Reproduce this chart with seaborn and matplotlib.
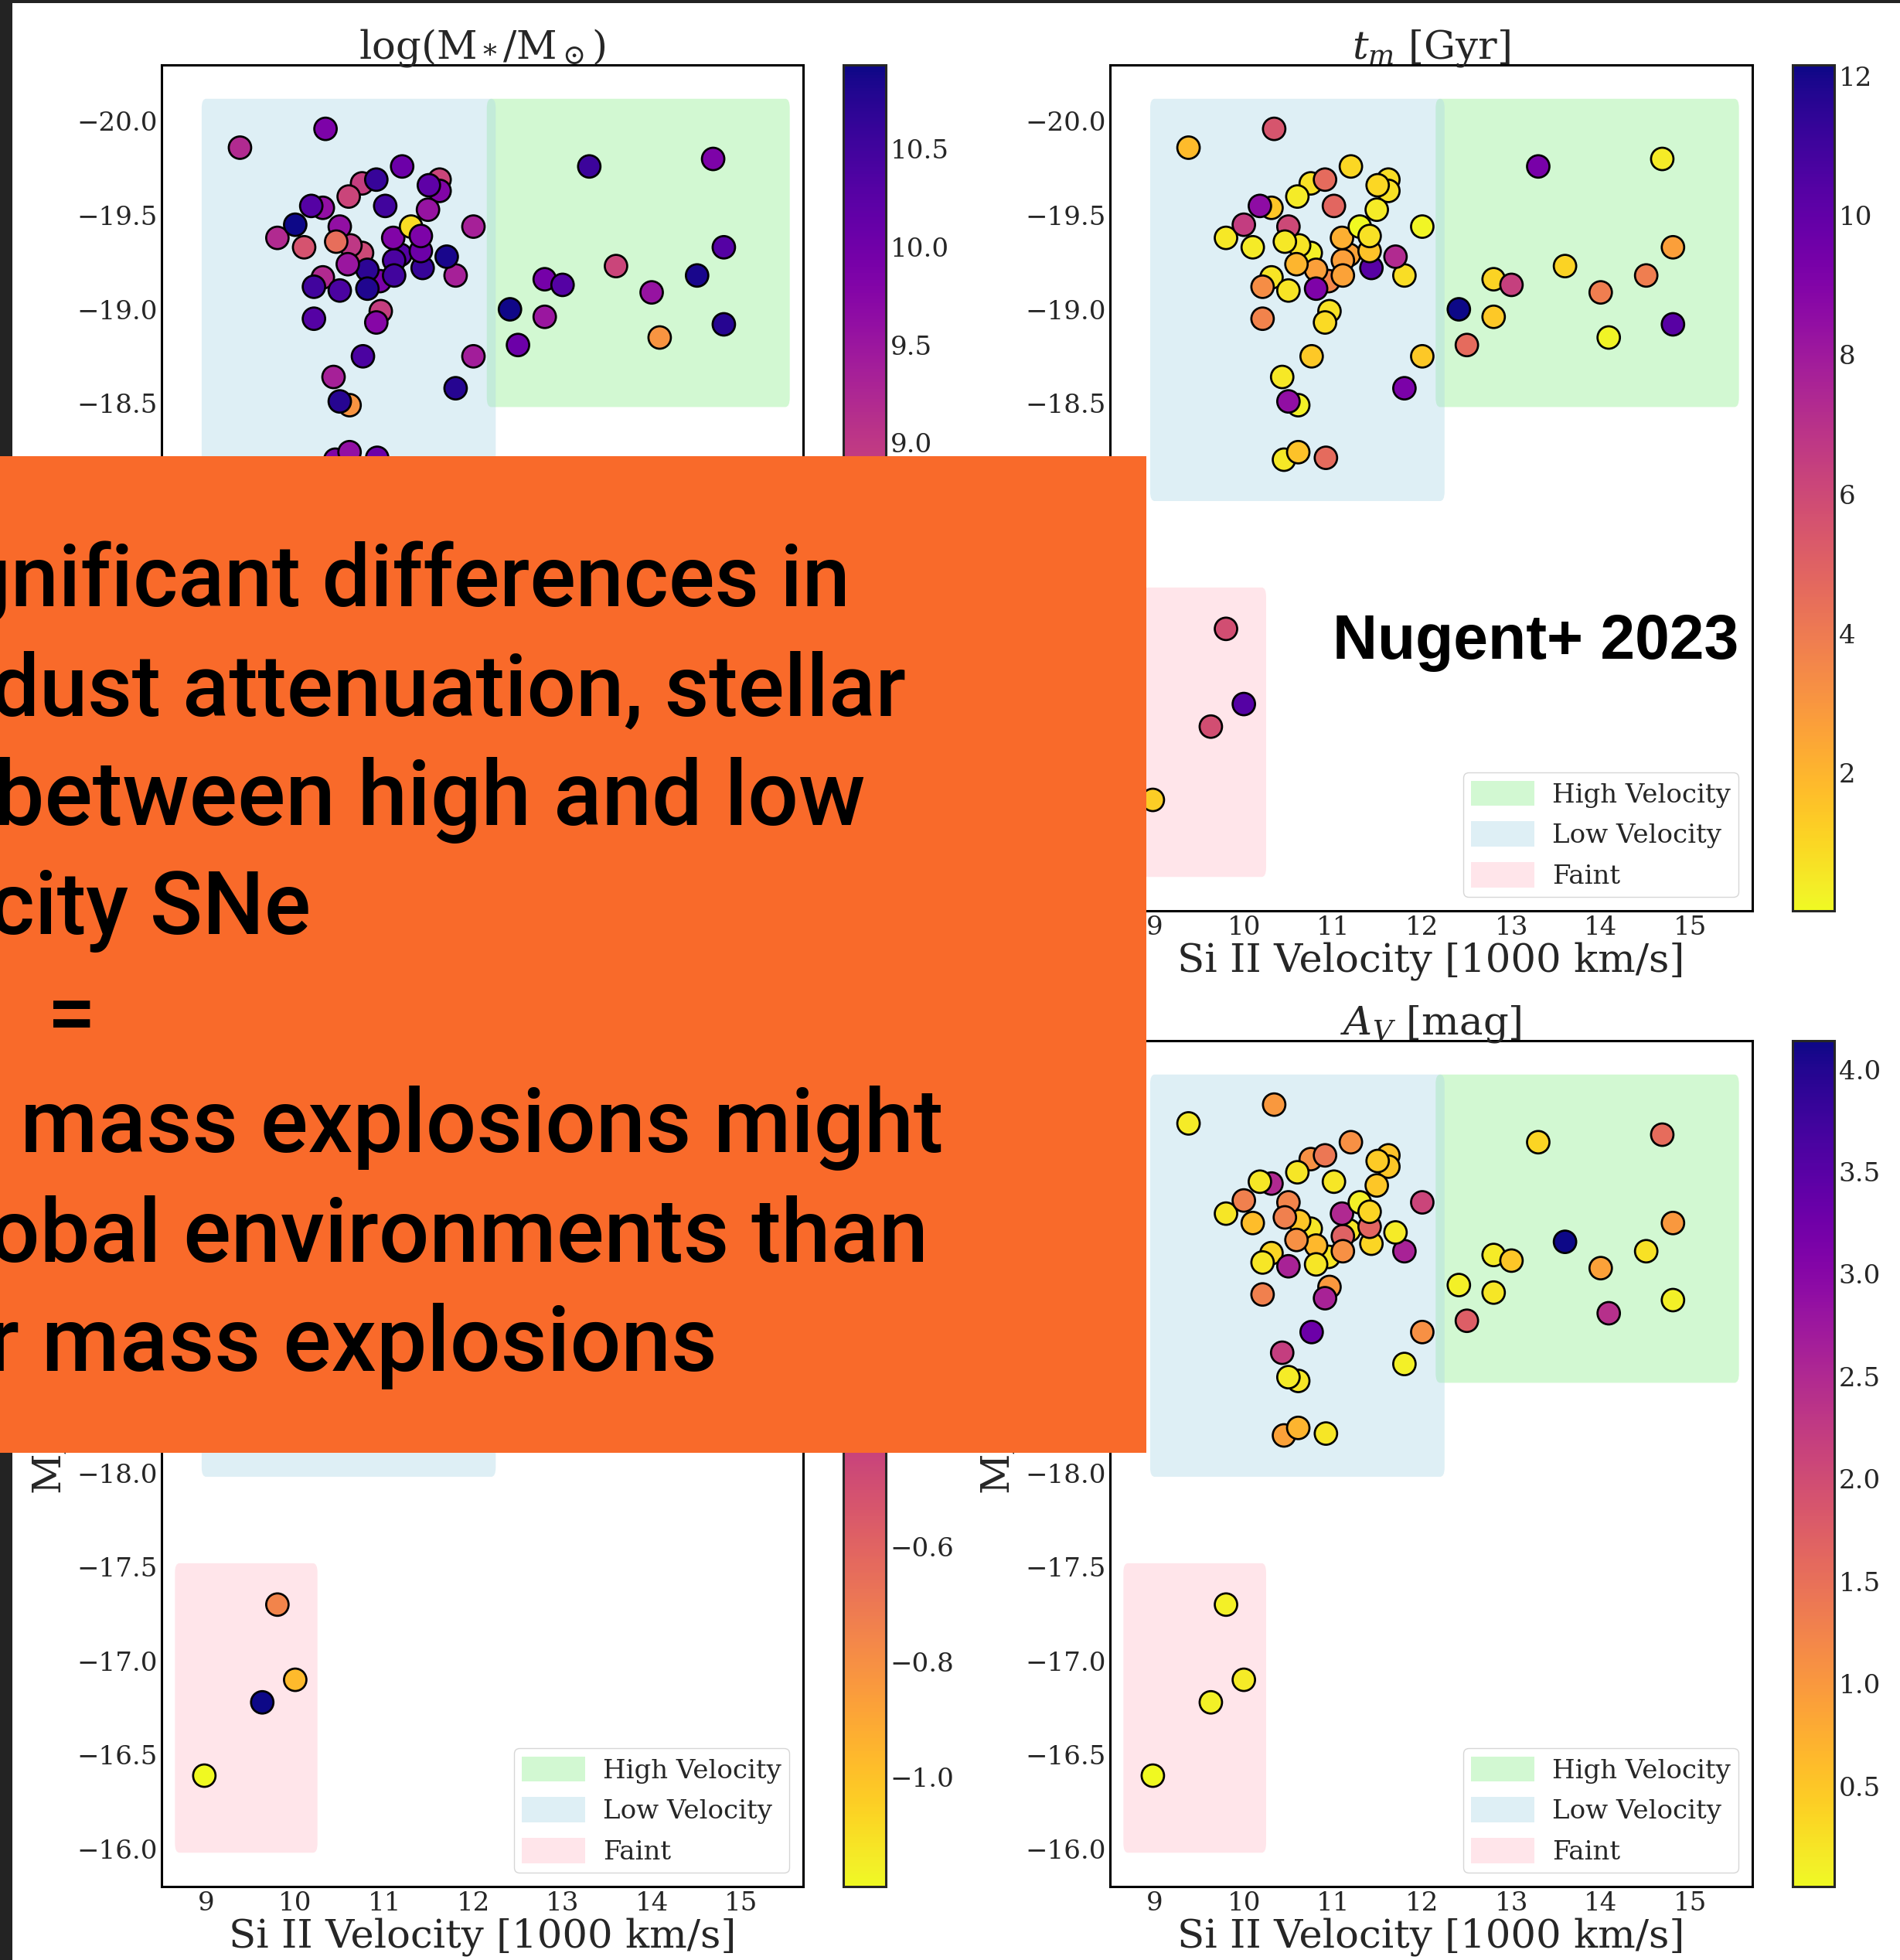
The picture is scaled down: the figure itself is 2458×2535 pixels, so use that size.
import matplotlib
matplotlib.use("Agg")
import matplotlib.pyplot as plt
from matplotlib.patches import FancyBboxPatch, Patch, Rectangle
from matplotlib.colors import Normalize
from matplotlib.cm import ScalarMappable
import pandas as pd
import seaborn as sns

# ---- host-galaxy properties of the SN Ia sample ----
si_velocity = [9.38, 10.34, 11.20, 10.75, 10.91, 10.60, 11.01, 11.62, 11.62, 11.50,
               11.49, 10.31, 10.18, 9.80, 10.00, 10.10, 10.75, 10.62, 10.50, 10.46,
               10.95, 10.81, 10.59, 10.81, 10.31, 10.21, 10.50, 11.43, 11.18, 11.11,
               11.11, 11.41, 11.10, 11.30, 11.41, 11.80, 11.70, 12.00, 10.96, 10.91,
               10.21, 10.76, 12.00, 10.43, 11.80, 10.61, 10.50, 10.45, 10.61, 10.92,
               12.41, 12.80, 13.00, 12.80, 12.50, 13.30, 14.69, 13.60, 14.00, 14.51,
               14.81, 14.81, 14.09, 9.80, 10.00, 9.63, 8.98]
peak_mag = [-19.86, -19.96, -19.76, -19.67, -19.69, -19.60, -19.55, -19.69, -19.63, -19.66,
            -19.53, -19.54, -19.55, -19.38, -19.45, -19.33, -19.30, -19.34, -19.44, -19.36,
            -19.15, -19.21, -19.24, -19.11, -19.17, -19.12, -19.10, -19.22, -19.29, -19.26,
            -19.18, -19.31, -19.38, -19.44, -19.39, -19.18, -19.28, -19.44, -18.99, -18.93,
            -18.95, -18.75, -18.75, -18.64, -18.58, -18.49, -18.51, -18.20, -18.24, -18.21,
            -19.00, -19.16, -19.13, -18.96, -18.81, -19.76, -19.80, -19.23, -19.09, -19.18,
            -19.33, -18.92, -18.85, -17.30, -16.90, -16.78, -16.39]
log_mass = [9.20, 9.85, 10.05, 8.90, 10.60, 8.80, 10.50, 8.80, 9.80, 10.20,
            9.55, 9.60, 10.30, 9.20, 10.93, 8.60, 8.75, 9.00, 9.60, 8.20,
            9.90, 10.70, 9.50, 10.80, 9.20, 10.50, 10.40, 10.60, 10.30, 10.40,
            10.50, 10.05, 9.80, 6.90, 9.85, 9.35, 10.85, 9.35, 8.90, 9.75,
            10.30, 10.40, 9.40, 9.35, 10.75, 7.70, 10.75, 9.80, 9.60, 10.05,
            10.90, 9.95, 10.30, 9.50, 10.05, 10.55, 9.85, 8.80, 9.55, 10.85,
            10.30, 10.75, 7.70, 9.30, 6.61, 8.90, 10.10]
mass_weighted_age = [1.8, 5.5, 1.0, 0.7, 4.6, 0.4, 4.8, 0.8, 0.7, 1.0,
                     0.4, 1.5, 8.6, 0.5, 6.5, 0.4, 0.3, 0.6, 6.0, 0.5,
                     3.5, 2.7, 2.0, 9.1, 0.6, 3.3, 0.6, 10.3, 2.6, 2.7,
                     2.6, 1.6, 2.2, 0.02, 0.7, 0.8, 7.3, 0.15, 0.7, 0.9,
                     3.7, 1.4, 1.4, 0.5, 9.2, 0.3, 8.5, 0.5, 1.6, 4.6,
                     12.16, 1.1, 6.4, 1.4, 4.6, 9.3, 0.4, 1.1, 3.9, 3.9,
                     2.7, 10.3, 0.2, 5.8, 10.4, 5.8, 1.3]
dust_av = [0.15, 1.00, 1.10, 1.10, 1.40, 0.20, 0.20, 0.55, 0.50, 0.45,
           0.50, 2.50, 0.20, 0.20, 1.30, 0.60, 0.20, 0.50, 1.25, 1.30,
           0.20, 0.65, 1.10, 0.20, 0.35, 0.20, 2.60, 0.35, 0.20, 1.70,
           1.10, 1.65, 2.50, 0.10, 0.35, 2.60, 0.15, 2.10, 1.00, 2.60,
           1.30, 3.30, 1.10, 2.20, 0.10, 0.20, 0.15, 0.90, 0.70, 0.20,
           0.10, 0.15, 0.50, 0.20, 1.75, 0.35, 1.55, 4.14, 0.90, 0.25,
           1.00, 0.10, 2.40, 0.10, 0.15, 0.10, 0.01]
log_metal = [-0.62, -0.35, -0.28, -0.71, -0.15, -0.80, -0.22, -0.66, -0.41, -0.30,
             -0.52, -0.47, -0.26, -0.58, -0.05, -0.77, -0.83, -0.69, -0.44, -0.92,
             -0.37, -0.18, -0.50, -0.12, -0.61, -0.24, -0.33, -0.16, -0.29, -0.27,
             -0.21, -0.39, -0.43, -1.02, -0.36, -0.54, -0.08, -0.56, -0.74, -0.45,
             -0.25, -0.31, -0.57, -0.55, -0.11, -0.95, -0.14, -0.42, -0.48, -0.34,
             -0.02, -0.40, -0.26, -0.51, -0.38, -0.20, -0.41, -0.63, -0.49, -0.09,
             -0.28, -0.13, -0.88, -0.75, -0.97, 0.28, -1.19]

panel_columns = ["log_mass", "t_m", "log_Z", "A_V"]
panel_titles = [r"log(M$_*$/M$_\odot$)", r"$t_m$ [Gyr]",
                r"log(Z$_*$/Z$_\odot$)", r"$A_V$ [mag]"]

region_names = ["High Velocity", "Low Velocity", "Faint"]
region_colors = ["lightgreen", "lightblue", "pink"]
region_vel = [(12.2, 15.5), (9.0, 12.2), (8.7, 10.2)]
region_mag = [(-20.07, -18.53), (-20.07, -18.03), (-17.47, -16.03)]

slide_lines = ["gnificant differences in", "dust attenuation, stellar",
               "between high and low", "city SNe", "=",
               "r mass explosions might", "obal environments than",
               "r mass explosions"]
credit = "Nugent+ 2023"

df = pd.DataFrame({"vel": si_velocity, "mag": peak_mag, "log_mass": log_mass,
                   "t_m": mass_weighted_age, "A_V": dust_av, "log_Z": log_metal})

# ---- styling ----
sns.set_theme(style="white")
plt.rcParams["font.family"] = ["DejaVu Serif"]
plt.rcParams["mathtext.fontset"] = "dejavuserif"
plt.rcParams["axes.unicode_minus"] = True

W, H = 2458, 2535
DPI = 100
fig = plt.figure(figsize=(W / DPI, H / DPI), dpi=DPI)
fig.patch.set_facecolor("white")


def px_axes(left, top, right, bottom, **kw):
    return fig.add_axes([left / W, 1 - bottom / H, (right - left) / W, (bottom - top) / H], **kw)


col_px = [((209, 1039), (1091, 1146)), ((1436, 2267), (2319, 2373))]
row_px = [(84, 1178), (1346, 2440)]

for k, (col, title) in enumerate(zip(panel_columns, panel_titles)):
    r, c = divmod(k, 2)
    (ax_l, ax_r), (cb_l, cb_r) = col_px[c]
    top, bot = row_px[r]
    ax = px_axes(ax_l, top, ax_r, bot)
    cax = px_axes(cb_l, top, cb_r, bot)

    for name, color, (v0, v1), (m0, m1) in zip(region_names, region_colors, region_vel, region_mag):
        ax.add_patch(FancyBboxPatch((v0, m0), v1 - v0, m1 - m0,
                                    boxstyle="round,pad=0.05", facecolor=color,
                                    edgecolor="none", alpha=0.4, zorder=1))

    norm = Normalize(vmin=df[col].min(), vmax=df[col].max())
    sns.scatterplot(data=df, x="vel", y="mag", hue=col, palette="plasma_r",
                    hue_norm=norm, s=436, edgecolor="black", linewidth=1.95,
                    legend=False, ax=ax, zorder=3)

    ax.set_xlim(8.5, 15.7)
    ax.set_ylim(-15.8, -20.3)
    ax.set_title(title, fontsize=37, pad=6)
    ax.set_xlabel("Si II Velocity [1000 km/s]", fontsize=37, labelpad=2)
    ax.set_ylabel(r"M$_B$", fontsize=37, labelpad=6)
    ax.tick_params(axis="both", which="both", direction="in", length=16, width=2.5,
                   labelsize=24.5, pad=4, top=False, right=False)
    for sp in ax.spines.values():
        sp.set_linewidth(2.2)
        sp.set_color("black")

    handles = [Patch(facecolor=cl, alpha=0.4, edgecolor="none", label=nm)
               for nm, cl in zip(region_names, region_colors)]
    ax.legend(handles=handles, loc="lower right", fontsize=24.5, handlelength=2.4,
              handleheight=1.1, handletextpad=0.68, labelspacing=0.52,
              borderpad=0.3, borderaxespad=0.53)

    cb = fig.colorbar(ScalarMappable(norm=norm, cmap="plasma_r"), cax=cax)
    cb.outline.set_linewidth(2.2)
    cb.ax.tick_params(direction="in", length=16, width=2.5, labelsize=24.5, pad=4)

# ---- slide overlay ----
ov = fig.add_axes([0, 0, 1, 1], zorder=20)
ov.set_xlim(0, W)
ov.set_ylim(H, 0)
ov.axis("off")
ov.patch.set_alpha(0)
ov.add_patch(Rectangle((0, 0), 16, H, facecolor="#232323", edgecolor="none"))
ov.add_patch(Rectangle((0, 0), W, 4, facecolor="#232323", edgecolor="none"))
ov.add_patch(Rectangle((0, 590), 1483, 1289, facecolor="#f96a2a", edgecolor="none"))

line_right = [1100, 1172, 1119, 402, 124, 1220, 1201, 928]
line_size = [80, 80.5, 83.5, 81, 81, 83, 83, 83.5]
for i, (txt, xr, fs) in enumerate(zip(slide_lines, line_right, line_size)):
    ov.text(xr, 784 + 141.3 * i, txt, ha="right", va="baseline", fontsize=fs,
            fontweight="medium", color="black", family=["Roboto", "DejaVu Sans"])

ov.text(2249, 852, credit, ha="right", va="baseline", fontsize=58,
        fontweight="bold", color="black", family=["Liberation Sans", "DejaVu Sans"])

fig.savefig("out.png", dpi=DPI)
